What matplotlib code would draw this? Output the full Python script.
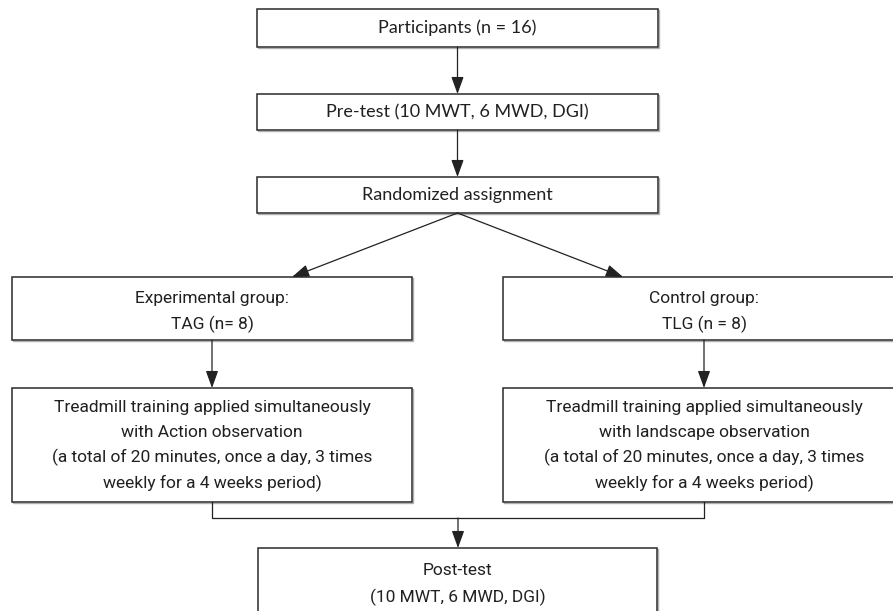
import matplotlib.pyplot as plt
from matplotlib.patches import Rectangle, FancyArrowPatch

# box texts
top_texts = ['Participants (n = 16)',
             'Pre-test (10 MWT, 6 MWD, DGI)',
             'Randomized assignment']
group_texts = [['Experimental group:', 'TAG (n= 8)'],
               ['Control group:', 'TLG (n = 8)']]
treat_texts = [['Treadmill training applied simultaneously',
                'with Action observation',
                '(a total of 20 minutes, once a day, 3 times',
                'weekly for a 4 weeks period)'],
               ['Treadmill training applied simultaneously',
                'with landscape observation',
                '(a total of 20 minutes, once a day, 3 times',
                'weekly for a 4 weeks period)']]
post_text = ['Post-test', '(10 MWT, 6 MWD, DGI)']

# layout in pixels (x0, y0, x1, y1), y downwards
top_boxes = [(257, 9, 658, 47), (257, 94, 658, 130), (257, 177, 658, 213)]
group_boxes = [(12, 277, 412, 340), (503, 277, 905, 340)]
treat_boxes = [(12, 388, 412, 502), (503, 388, 905, 502)]
post_box = (258, 548, 657, 640)

W, H = 893, 611
fig = plt.figure(figsize=(W / 100, H / 100), dpi=100)
ax = fig.add_axes([0, 0, 1, 1])
ax.set_xlim(0, W)
ax.set_ylim(H, 0)
ax.axis('off')

edge = '#2a2a2a'
txt = '#231f20'
myriad = ['Lato', 'DejaVu Sans']
narrow = ['Roboto', 'DejaVu Sans']


def frame(b):
    x0, y0, x1, y1 = b
    ax.add_patch(Rectangle((x0 + 1, y0 + 1), x1 - x0, y1 - y0, fill=False,
                           edgecolor='#b0b0b0', lw=1.0))
    ax.add_patch(Rectangle((x0, y0), x1 - x0, y1 - y0, facecolor='white',
                           edgecolor=edge, lw=1.1))


def lines(b, rows, base, pitch, size=12.5):
    xc = (b[0] + b[2]) / 2
    for i, s in enumerate(rows):
        ax.text(xc, base + i * pitch, s, ha='center', va='baseline',
                family=narrow, fontsize=size, color=txt)


def arrow(p, q):
    ax.add_patch(FancyArrowPatch(p, q, arrowstyle='-|>,head_length=10.5,head_width=3.8',
                                 color='#222222', lw=0.9, shrinkA=0, shrinkB=0))


for b, t in zip(top_boxes, top_texts):
    frame(b)
    ax.text((b[0] + b[2]) / 2, (b[1] + b[3]) / 2, t, ha='center', va='center',
            family=myriad, fontsize=13, color=txt)
for b, t in zip(group_boxes, group_texts):
    frame(b)
    lines(b, t, 303, 26)
for b, t in zip(treat_boxes, treat_texts):
    frame(b)
    lines(b, t, 412, 25.3)
frame(post_box)
lines(post_box, post_text, 575, 27)

# vertical arrows in top chain
arrow((457.5, 47), (457.5, 94))
arrow((457.5, 130), (457.5, 177))
# split to the two groups
arrow((457.5, 213), (292, 277))
arrow((457.5, 213), (623, 277))
# group -> treatment
arrow((212, 340), (212, 388))
arrow((704, 340), (704, 388))
# merge to post-test
ax.plot([212, 212, 704, 704], [502, 518, 518, 502], color='#222222', lw=0.9)
arrow((458, 518), (458, 548))

fig.savefig('out.png', dpi=100)
